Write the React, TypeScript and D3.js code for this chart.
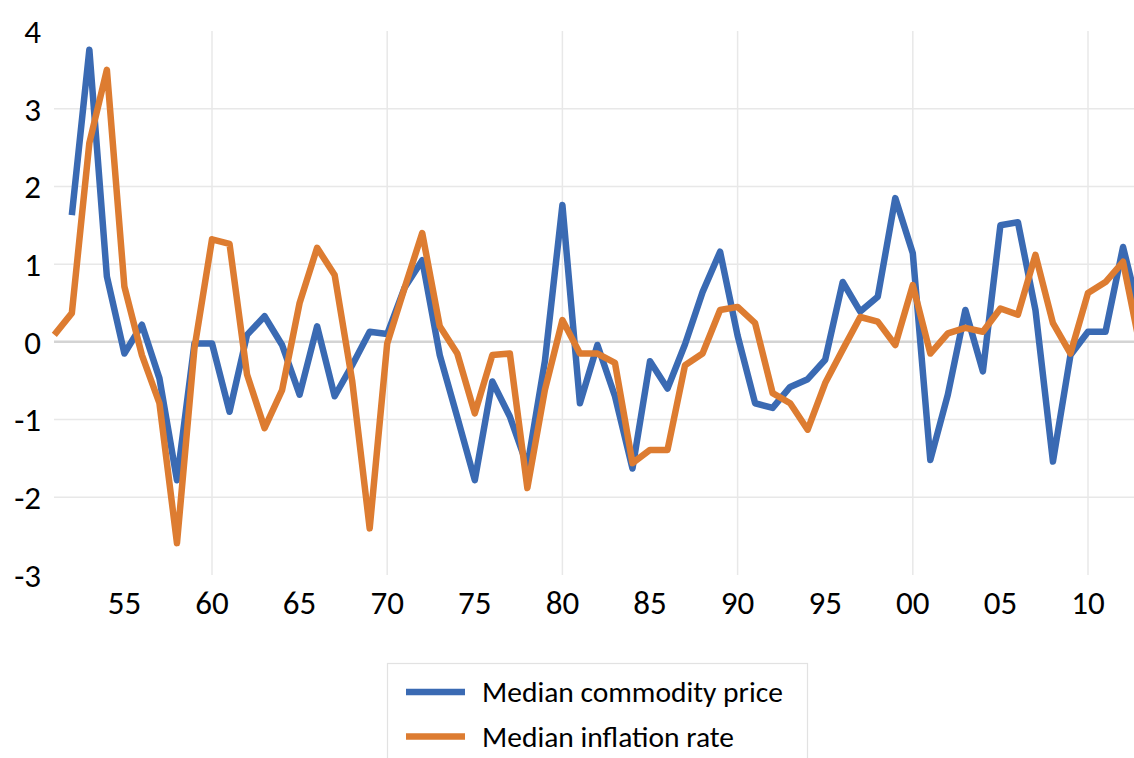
import React from "react";
import * as d3 from "d3";

const commodityStart = 1952;
const commodity = [
  1.63, 3.76, 0.84, -0.15, 0.22, -0.47, -1.78, -0.02, -0.02, -0.9,
  0.09, 0.33, -0.04, -0.68, 0.2, -0.7, -0.3, 0.13, 0.1, 0.7,
  1.05, -0.17, -0.97, -1.78, -0.51, -0.96, -1.6, -0.25, 1.76, -0.79,
  -0.04, -0.7, -1.63, -0.25, -0.6, -0.03, 0.64, 1.16, 0.08, -0.79,
  -0.85, -0.58, -0.48, -0.23, 0.77, 0.39, 0.58, 1.85, 1.14, -1.52,
  -0.68, 0.41, -0.38, 1.5, 1.54, 0.41, -1.54, -0.17, 0.13, 0.13,
  1.22, 0.31,
];

const inflationStart = 1951;
const inflation = [
  0.09, 0.37, 2.56, 3.5, 0.71, -0.17, -0.79, -2.59, -0.08, 1.32,
  1.26, -0.42, -1.11, -0.62, 0.5, 1.21, 0.86, -0.5, -2.4, -0.02,
  0.7, 1.4, 0.2, -0.15, -0.92, -0.17, -0.15, -1.88, -0.62, 0.28,
  -0.15, -0.15, -0.27, -1.56, -1.39, -1.39, -0.3, -0.15, 0.41, 0.45,
  0.24, -0.66, -0.79, -1.13, -0.53, -0.1, 0.32, 0.26, -0.04, 0.73,
  -0.15, 0.11, 0.18, 0.13, 0.43, 0.35, 1.12, 0.24, -0.15, 0.63,
  0.77, 1.03, -0.09,
];

const xTickYears = [1955, 1960, 1965, 1970, 1975, 1980, 1985, 1990, 1995, 2000, 2005, 2010];
const xGridYears = [1960, 1970, 1980, 1990, 2000, 2010];
const yTicks = [4, 3, 2, 1, 0, -1, -2, -3];
const yGrid = [3, 2, 1, -1, -2];

const seriesNames = ["Median commodity price", "Median inflation rate"];
const colors = ["#3A6AB3", "#DD7C31"];

const FONT = "Carlito, Lato, 'Open Sans', sans-serif";

export default function App() {
  const W = 1134;
  const H = 758;
  const x = d3.scaleLinear().domain([1960, 2010]).range([212, 1088]);
  const y = d3.scaleLinear().domain([-3, 4]).range([575, 31]);
  const plotLeft = 54;

  const toPts = (start: number, vals: number[]) =>
    vals.map((v, i) => [start + i, v] as [number, number]);
  const line = d3
    .line<[number, number]>()
    .x((d) => x(d[0]))
    .y((d) => y(d[1]));

  const series = [
    toPts(commodityStart, commodity),
    toPts(inflationStart, inflation),
  ];

  const fmtYear = (yr: number) => String(yr % 100).padStart(2, "0");

  return (
    <svg
      width={W}
      height={H}
      style={{ position: "absolute", left: 0, top: 0, background: "#fff" }}
      fontFamily={FONT}
    >
      <rect x={0} y={0} width={W} height={H} fill="#fff" />
      {xGridYears.map((yr) => (
        <line
          key={"vg" + yr}
          x1={x(yr)}
          x2={x(yr)}
          y1={y(4)}
          y2={y(-3)}
          stroke="#e8e8e8"
          strokeWidth={1.5}
        />
      ))}
      {yGrid.map((v) => (
        <line
          key={"hg" + v}
          x1={plotLeft}
          x2={W + 20}
          y1={y(v)}
          y2={y(v)}
          stroke="#e8e8e8"
          strokeWidth={1.5}
        />
      ))}
      <line
        x1={plotLeft}
        x2={W + 20}
        y1={y(0)}
        y2={y(0)}
        stroke="#d4d4d4"
        strokeWidth={2.5}
      />
      {yTicks.map((v) => (
        <text
          key={"yl" + v}
          x={41}
          y={y(v)}
          dy="0.36em"
          textAnchor="end"
          fontSize={33}
          fill="#000"
        >
          {v}
        </text>
      ))}
      {xTickYears.map((yr) => (
        <text
          key={"xl" + yr}
          x={x(yr)}
          y={614}
          textAnchor="middle"
          fontSize={33}
          fill="#000"
        >
          {fmtYear(yr)}
        </text>
      ))}
      {series.map((pts, i) => (
        <path
          key={"s" + i}
          d={line(pts) || ""}
          fill="none"
          stroke={colors[i]}
          strokeWidth={6.5}
          strokeLinejoin="round"
          strokeLinecap="butt"
        />
      ))}
      <rect
        x={387.5}
        y={663.5}
        width={420}
        height={110}
        fill="#fff"
        stroke="#e2e2e2"
        strokeWidth={1.2}
      />
      {seriesNames.map((name, i) => {
        const ly = 692 + i * 44.5;
        return (
          <g key={"lg" + i}>
            <line
              x1={406}
              x2={465}
              y1={ly}
              y2={ly}
              stroke={colors[i]}
              strokeWidth={6.5}
            />
            <text x={482} y={ly} dy="0.35em" fontSize={29.5} fill="#000">
              {name}
            </text>
          </g>
        );
      })}
    </svg>
  );
}
